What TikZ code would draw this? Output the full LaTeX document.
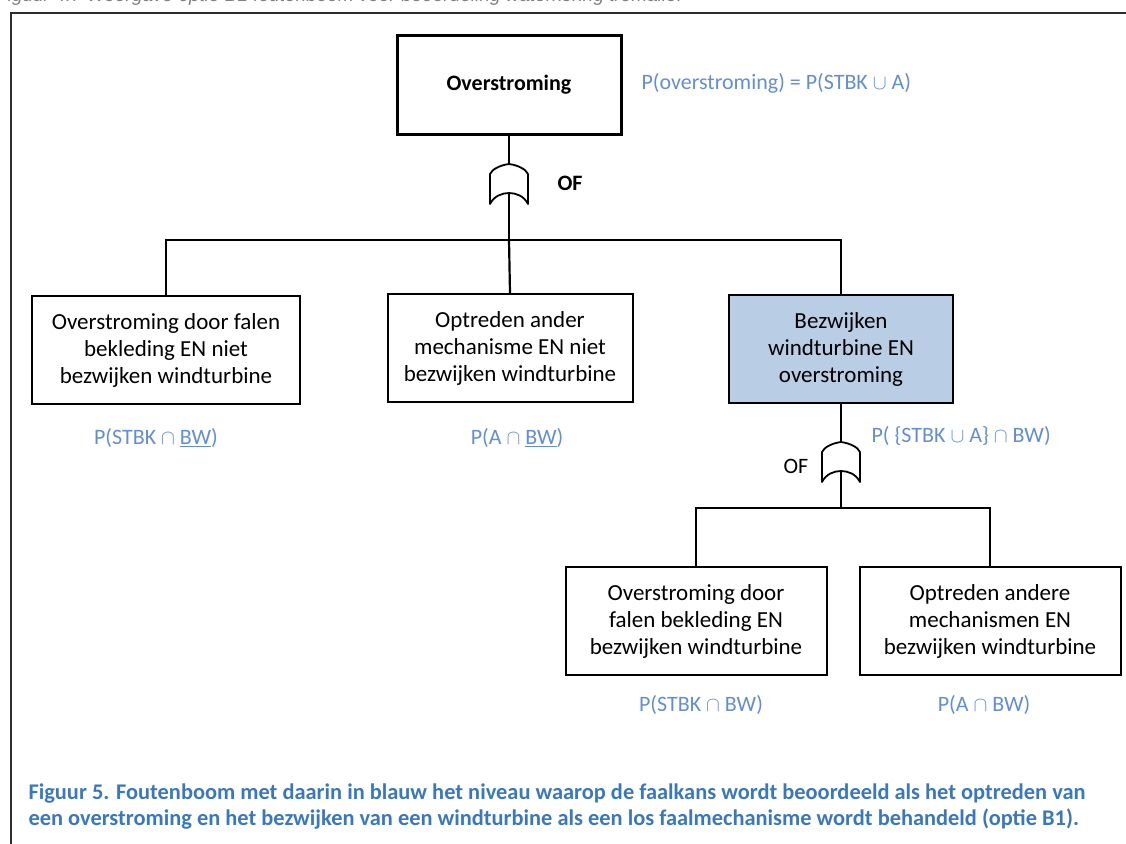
\documentclass[tikz,border=0pt]{standalone}
\usepackage{fontspec}
\setmainfont{Carlito}
\newfontfamily\headfont{Liberation Sans}
\definecolor{labelblue}{RGB}{98,142,212}
\definecolor{capblue}{RGB}{58,120,190}
\definecolor{boxblue}{RGB}{185,205,229}
\definecolor{framegray}{RGB}{45,45,45}
\tikzset{
  event/.style={draw, line width=2pt, align=center, minimum height=108pt,
    font=\fontsize{23}{27}\selectfont},
  prob/.style={text=labelblue, font=\fontsize{22}{26}\selectfont},
  conn/.style={line width=2.2pt},
  orgate/.pic={
    \draw [line width=1.8pt, line join=round] (0,0) .. controls (8,1) and (17,5) .. (19,10)
      -- (19,40) .. controls (15,32) and (7,29) .. (0,29)
      .. controls (-7,29) and (-15,32) .. (-19,40) -- (-19,10)
      .. controls (-17,5) and (-8,1) .. (0,0) -- cycle;
  }
}
\begin{document}
\begin{tikzpicture}[x=1pt, y=-1pt]
  \useasboundingbox (0,0) rectangle (1126,843);
  % clipped heading above the frame
  \node [anchor=base west, inner sep=0pt, text=gray, font=\headfont\itshape\fontsize{19}{22}\selectfont]
    (head) at (-4,2) {Figuur 4.7 Weergave optie B1 foutenboom voor beoordeling waterkering tremalie.};
  \draw [line width=2.5pt, color=framegray] (11,850) -- (11,13) -- (1130,13);
  % top event
  \node [event, line width=3pt, minimum width=224pt, minimum height=99pt,
    font=\bfseries\fontsize{22}{26}\selectfont] (top) at (509,85) {Overstroming};
  \node [prob, anchor=west] (ptop) at (638,83) {P(overstroming) = P(STBK $\cup$ A)};
  % first gate
  \pic at (509,164) {orgate};
  \coordinate (g1top) at (509,164);
  \coordinate (g1bot) at (509,193);
  \node [font=\bfseries\fontsize{22}{26}\selectfont] (of1) at (570,183) {OF};
  \coordinate (bus1) at (509,240);
  \draw [conn] (top.south) -- (g1top);
  \draw [conn] (g1bot) -- (bus1);
  % second row
  \node [event, minimum width=268pt] (ovst) at (166,350)
    {Overstroming door falen\\bekleding EN niet\\bezwijken windturbine};
  \node [event, minimum width=245pt] (ander) at (510,348)
    {Optreden ander\\mechanisme EN niet\\bezwijken windturbine};
  \node [event, line width=2.5pt, fill=boxblue, minimum width=224pt] (bezw) at (841,349)
    {Bezwijken\\windturbine EN\\overstroming};
  \draw [conn] (ovst.north) |- (bus1) -| (bezw.north);
  \draw [conn] (bus1) -- (ander.north);
  \node [prob] (povst) at (156,438) {P(STBK $\cap$ \underline{BW})};
  \node [prob] (pander) at (517,438) {P(A $\cap$ \underline{BW})};
  \node [prob, anchor=west] (pbezw) at (868,436) {P( \{STBK $\cup$ A\} $\cap$ BW)};
  % second gate
  \pic at (841,442) {orgate};
  \coordinate (g2top) at (841,442);
  \coordinate (g2bot) at (841,471);
  \node [font=\fontsize{22}{26}\selectfont] (of2) at (796,466) {OF};
  \coordinate (bus2) at (841,508);
  \draw [conn] (bezw.south) -- (g2top);
  \draw [conn] (g2bot) -- (bus2);
  % third row
  \node [event, minimum width=261pt] (ovstbw) at (696,621)
    {Overstroming door\\falen bekleding EN\\bezwijken windturbine};
  \node [event, minimum width=261pt] (anderbw) at (990,621)
    {Optreden andere\\mechanismen EN\\bezwijken windturbine};
  \draw [conn] (ovstbw.north) |- (bus2) -| (anderbw.north);
  \node [prob] (povstbw) at (701,705) {P(STBK $\cap$ BW)};
  \node [prob] (panderbw) at (984,705) {P(A $\cap$ BW)};
  % caption
  \node [anchor=west, align=left, text=capblue, font=\bfseries\fontsize{22.4}{26}\selectfont]
    (cap) at (25,807) {Figuur 5. Foutenboom met daarin in blauw het niveau waarop de faalkans wordt beoordeeld als het optreden van\\
    een overstroming en het bezwijken van een windturbine als een los faalmechanisme wordt behandeld (optie B1).};
\end{tikzpicture}
\end{document}
